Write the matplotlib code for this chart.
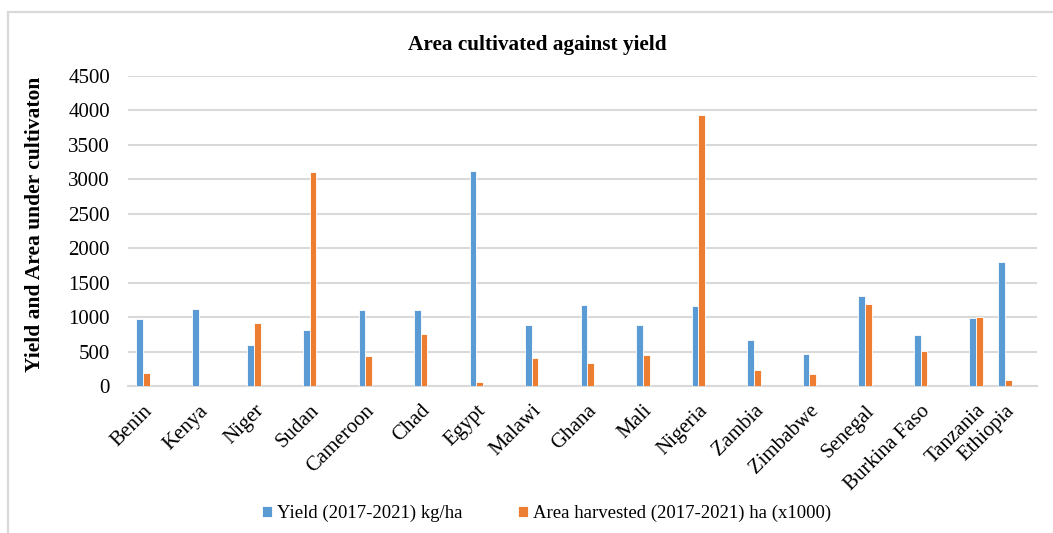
import numpy as np
import matplotlib
matplotlib.use("Agg")
import matplotlib.pyplot as plt
from matplotlib.patches import Rectangle

# Data
countries = ['Benin', 'Kenya', 'Niger', 'Sudan', 'Cameroon', 'Chad', 'Egypt', 'Malawi',
             'Ghana', 'Mali', 'Nigeria', 'Zambia', 'Zimbabwe', 'Senegal', 'Burkina Faso',
             'Tanzania', 'Ethiopia']
yield_kg_ha = [974, 1113, 593, 806, 1108, 1108, 3121, 890, 1182, 880, 1157, 663, 460,
               1311, 747, 984, 1795]
area_ha_k = [183, 0, 910, 3106, 440, 762, 54, 400, 336, 450, 3937, 232, 178, 1187, 514,
             999, 94]

plt.rcParams['font.family'] = ['Liberation Serif', 'DejaVu Serif']

fig = plt.figure(figsize=(10.53, 5.33), dpi=100)
ax = fig.add_axes([0.1216, 0.2758, 0.8634, 0.5816])

# in the original the last category sits squeezed next to Tanzania
x = np.arange(len(countries), dtype=float)
x[-1] = x[-2] + 0.52
w = 0.12

ax.bar(x - w / 2, yield_kg_ha, w, color='#5B9BD5', edgecolor='white', linewidth=0.6,
       label='Yield (2017-2021) kg/ha', zorder=3)
ax.bar(x + w / 2, area_ha_k, w, color='#ED7D31', edgecolor='white', linewidth=0.6,
       label='Area harvested (2017-2021) ha (x1000)', zorder=3)

ax.set_ylim(0, 4500)
ax.set_yticks(range(0, 4501, 500))
ax.set_xlim(-0.27, 16.1)
ax.set_xticks(x)
ax.set_xticklabels(countries, rotation=45, ha='right', rotation_mode='anchor')
ax.tick_params(axis='both', length=0, labelsize=15)
ax.tick_params(axis='x', pad=11)
ax.tick_params(axis='y', pad=13)
ax.grid(axis='y', color='#d9d9d9', linewidth=1.5, zorder=0)
for s in ['top', 'right', 'left']:
    ax.spines[s].set_visible(False)
ax.spines['bottom'].set_color('#d9d9d9')
ax.spines['bottom'].set_linewidth(1.5)

ax.set_ylabel('Yield and Area under cultivaton', fontsize=15.5, fontweight='bold')
ax.yaxis.set_label_coords(-0.0913, 0.52)
fig.text(0.5105, 0.916, 'Area cultivated against yield', ha='center', va='center',
         fontsize=15.3, fontweight='bold')

fig.legend(loc='center', bbox_to_anchor=(0.519, 0.036), ncol=2, frameon=False, fontsize=13.5,
           handlelength=0.5, handleheight=0.5, handletextpad=0.27, columnspacing=3.0)

# light frame around the chart area
fig.patches.append(Rectangle((0.0079, -0.05), 1.1, 1.0275, transform=fig.transFigure,
                             fill=False, edgecolor='#d9d9d9', linewidth=1.6))

fig.savefig('out.png', dpi=100)
